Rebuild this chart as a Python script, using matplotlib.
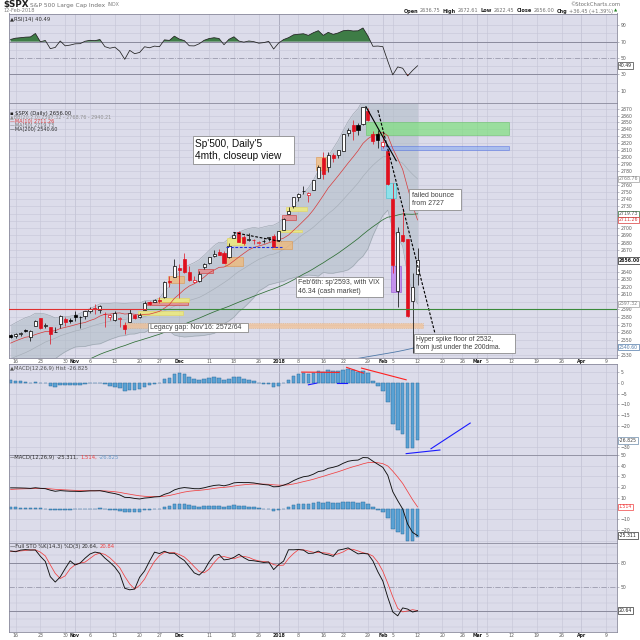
import numpy as np
import pandas as pd
import matplotlib
matplotlib.use('Agg')
import matplotlib.pyplot as plt
from matplotlib.patches import Rectangle
from matplotlib.transforms import blended_transform_factory as btf
from matplotlib.ticker import NullLocator, FixedLocator, FixedFormatter

plt.rcParams['font.family'] = ['DejaVu Sans']

# ---------------- data ----------------
open_ = [2556.20, 2555.57, 2557.17, 2562.87, 2553.39, 2567.56, 2578.08, 2568.66, 2566.52, 2560.08,
         2570.26, 2577.75, 2575.99, 2583.21, 2579.46, 2581.93, 2587.47, 2592.11, 2588.71, 2584.00,
         2580.18, 2576.53, 2577.75, 2569.45, 2572.95, 2582.94, 2579.49, 2589.17, 2600.31, 2600.42,
         2602.66, 2605.94, 2627.82, 2633.93, 2645.10, 2657.19, 2639.78, 2626.24, 2628.38, 2646.21,
         2652.19, 2661.73, 2667.59, 2665.87, 2660.63, 2685.92, 2694.95, 2688.18, 2683.02, 2684.22,
         2679.09, 2682.10, 2686.10, 2689.15, 2683.73, 2697.85, 2719.31, 2731.33, 2742.67, 2751.15,
         2745.55, 2752.97, 2770.18, 2798.96, 2784.99, 2802.40, 2802.60, 2809.16, 2835.05, 2845.42,
         2846.24, 2847.48, 2867.23, 2832.74, 2832.41, 2816.45, 2808.92, 2741.06, 2614.78, 2690.95,
         2685.01, 2601.78, 2636.75]
high = [2557.65, 2559.47, 2559.71, 2564.11, 2562.36, 2575.44, 2578.29, 2572.18, 2567.40, 2567.07,
        2582.98, 2580.03, 2578.29, 2588.40, 2581.11, 2588.42, 2593.38, 2597.02, 2595.47, 2586.50,
        2583.81, 2587.66, 2579.66, 2572.84, 2590.09, 2583.96, 2584.64, 2601.19, 2600.94, 2604.21,
        2606.41, 2627.69, 2634.89, 2657.74, 2650.62, 2665.19, 2648.72, 2634.41, 2640.99, 2651.65,
        2660.33, 2669.72, 2671.88, 2668.09, 2679.63, 2694.97, 2695.44, 2691.01, 2692.64, 2685.35,
        2682.74, 2685.64, 2687.66, 2692.12, 2695.89, 2714.37, 2729.29, 2743.45, 2748.51, 2759.14,
        2750.80, 2767.56, 2787.85, 2807.54, 2807.04, 2805.83, 2810.33, 2833.03, 2842.24, 2852.97,
        2848.56, 2872.87, 2870.62, 2837.75, 2839.26, 2835.96, 2808.92, 2763.39, 2701.04, 2727.67,
        2685.27, 2638.67, 2672.61]
low = [2552.09, 2552.64, 2554.69, 2559.67, 2547.92, 2567.56, 2564.33, 2565.58, 2544.00, 2559.80,
       2565.94, 2568.25, 2572.15, 2574.92, 2566.17, 2576.77, 2585.66, 2584.35, 2585.02, 2566.33,
       2575.57, 2574.48, 2566.56, 2557.45, 2572.95, 2577.62, 2578.24, 2589.17, 2595.23, 2600.42,
       2598.87, 2605.44, 2620.32, 2633.93, 2605.52, 2639.03, 2627.73, 2624.75, 2626.53, 2644.10,
       2651.47, 2659.78, 2662.85, 2652.01, 2659.14, 2685.92, 2680.74, 2676.11, 2682.40, 2678.13,
       2677.96, 2678.91, 2682.69, 2673.61, 2682.36, 2697.77, 2719.07, 2727.92, 2737.60, 2747.86,
       2736.06, 2752.78, 2769.64, 2768.64, 2778.38, 2792.56, 2798.08, 2808.12, 2830.59, 2824.81,
       2830.94, 2846.18, 2851.48, 2818.27, 2813.04, 2812.70, 2759.97, 2638.17, 2593.07, 2681.33,
       2580.56, 2532.69, 2622.45]
close = [2553.17, 2557.64, 2559.36, 2561.26, 2562.10, 2575.21, 2564.98, 2569.13, 2557.15, 2560.40,
         2581.07, 2572.83, 2575.26, 2579.36, 2579.85, 2587.84, 2591.13, 2590.64, 2594.38, 2584.62,
         2582.30, 2584.84, 2578.87, 2564.62, 2585.64, 2578.85, 2582.14, 2599.03, 2597.08, 2602.42,
         2601.42, 2627.04, 2626.07, 2647.58, 2642.22, 2639.44, 2629.57, 2629.27, 2636.98, 2651.50,
         2659.99, 2664.11, 2662.85, 2652.01, 2675.81, 2690.16, 2681.47, 2679.25, 2684.57, 2683.34,
         2680.50, 2682.62, 2687.54, 2673.61, 2695.81, 2713.06, 2723.99, 2743.15, 2747.71, 2751.29,
         2748.23, 2767.56, 2786.24, 2776.42, 2802.56, 2798.03, 2810.30, 2832.97, 2839.13, 2837.54,
         2839.25, 2872.87, 2853.53, 2822.43, 2823.81, 2821.98, 2762.13, 2648.94, 2695.14, 2681.66,
         2581.00, 2619.55, 2656.00]
# closes before the visible window (Aug 1 - Oct 12, 2017) for indicator warm-up
pre_close = [2476.35, 2477.57, 2472.16, 2476.83, 2480.91, 2474.92, 2474.02, 2438.21, 2441.32, 2465.84,
             2464.61, 2468.11, 2430.01, 2425.55, 2428.37, 2452.51, 2444.04, 2438.97, 2443.05, 2444.24,
             2446.30, 2457.59, 2471.65, 2476.55, 2457.85, 2465.54, 2465.10, 2461.43, 2488.11, 2496.48,
             2498.37, 2495.62, 2500.23, 2503.87, 2506.65, 2508.24, 2500.60, 2502.22, 2496.66, 2496.84,
             2507.04, 2510.06, 2519.36, 2529.12, 2534.58, 2537.74, 2552.07, 2549.33, 2544.73, 2550.64,
             2555.24, 2550.93]
pre_high = [2508.32, 2507.99, 2508.85, 2507.84, 2503.47, 2502.54, 2503.51, 2511.75, 2510.81, 2519.44,
            2529.23, 2535.13, 2540.53, 2552.51, 2549.99, 2551.82, 2555.23, 2555.24, 2555.33]
pre_low = [2499.92, 2502.54, 2496.67, 2497.16, 2496.54, 2488.03, 2495.12, 2495.91, 2502.93, 2507.99,
           2520.40, 2528.85, 2531.80, 2540.02, 2543.79, 2541.60, 2544.86, 2547.95, 2548.31]
ma200_start = 70
ma200_tail = [2526.0, 2527.1, 2528.2, 2529.3, 2530.4, 2531.5, 2532.6, 2533.7, 2534.9, 2536.2,
              2537.6, 2539.1, 2540.6]

holidays = ['2017-11-23', '2017-12-25', '2018-01-01', '2018-01-15', '2018-02-19', '2018-03-30']
tick_dates = ['2017-10-16', '2017-10-23', '2017-10-30', '2017-11-01', '2017-11-06', '2017-11-13',
              '2017-11-20', '2017-11-27', '2017-12-01', '2017-12-11', '2017-12-18', '2017-12-26',
              '2018-01-02', '2018-01-08', '2018-01-16', '2018-01-22', '2018-01-29', '2018-02-01',
              '2018-02-05', '2018-02-12', '2018-02-20', '2018-02-26', '2018-03-01', '2018-03-05',
              '2018-03-12', '2018-03-19', '2018-03-26', '2018-04-02', '2018-04-09']
tick_labels = ['16', '23', '30', 'Nov', '6', '13', '20', '27', 'Dec', '11', '18', '26', '2018', '8',
               '16', '22', '29', 'Feb', '5', '12', '20', '26', 'Mar', '5', '12', '19', '26', 'Apr', '9']
month_labels = {'Nov', 'Dec', '2018', 'Feb', 'Mar', 'Apr'}

# user annotation zones: (x from, x to [trading-day index], price low, price high, kind)
zones = [
    (25.7, 34.8, 2583.0, 2588.0, 'y'), (27.4, 35.8, 2596.0, 2599.5, 'r'),
    (29.8, 36.0, 2600.3, 2605.6, 'y'), (31.8, 34.9, 2625.0, 2634.0, 'o'),
    (37.8, 40.7, 2639.0, 2644.6, 'r'), (43.2, 46.9, 2648.6, 2660.8, 'o'),
    (43.7, 47.2, 2676.8, 2686.0, 'y'), (52.6, 56.8, 2671.0, 2682.3, 'o'),
    (54.6, 57.6, 2711.2, 2718.2, 'r'), (54.1, 58.7, 2694.2, 2697.4, 'y'),
    (55.5, 59.8, 2724.1, 2729.7, 'y'), (61.6, 63.8, 2781.4, 2800.0, 'o'),
    (22.8, 83.0, 2565.2, 2572.5, 'gap'), (71.6, 100.5, 2831.7, 2851.0, 'g'),
    (74.6, 100.5, 2809.6, 2815.8, 'b'), (75.6, 77.7, 2741.5, 2762.6, 'c'),
    (76.6, 78.6, 2613.7, 2648.2, 'p'),
]
# trend lines in price panel: (x0, p0, x1, p1, color, style)
price_lines = [
    (44.9, 2694.0, 54.6, 2681.3, 'black', '--'),
    (43.5, 2674.5, 54.6, 2674.5, '#2030e0', '--'),
    (71.6, 2872.9, 77.7, 2794.6, 'black', '-'),
    (74.0, 2868.0, 85.5, 2558.6, 'black', '--'),
    (-0.4, 2590.2, 27.4, 2590.2, '#e03030', '-'),
    (27.4, 2590.2, 122.2, 2590.2, '#3a8a3a', '-'),
]
hist_lines = [
    (58.65, 5.14, 66.2, 5.0, '#ff2020'), (67.7, 7.34, 71.1, 4.67, '#ff2020'),
    (70.7, 7.0, 79.7, 1.54, '#ff2020'),
    (60.0, -0.8, 61.7, 0.0, '#1a1aff'), (65.7, 0.0, 67.7, 0.0, '#1a1aff'),
    (79.7, -33.0, 86.5, -31.3, '#1a1aff'), (84.7, -30.7, 92.6, -18.7, '#1a1aff'),
]

# ---------------- indicators ----------------
n = len(close)
npre = len(pre_close)
x = np.arange(n)
c_all = pd.Series(pre_close + close)
h_all = pd.Series([np.nan] * (npre - len(pre_high)) + pre_high + high)
l_all = pd.Series([np.nan] * (npre - len(pre_low)) + pre_low + low)
ma10 = c_all.rolling(10).mean().values[npre:]
ma20 = c_all.rolling(20).mean()
sd20 = c_all.rolling(20).std(ddof=0)
bb_mid = ma20.values[npre:]
bb_up = (ma20 + 2 * sd20).values[npre:]
bb_lo = (ma20 - 2 * sd20).values[npre:]
ma50 = c_all.rolling(50).mean().values[npre:]
ema12 = c_all.ewm(span=12, adjust=False).mean()
ema26 = c_all.ewm(span=26, adjust=False).mean()
macd_s = ema12 - ema26
sig_s = macd_s.ewm(span=9, adjust=False).mean()
macd = macd_s.values[npre:]
sig = sig_s.values[npre:]
hist = macd - sig
d = c_all.diff()
ag = d.clip(lower=0).ewm(alpha=1 / 14, adjust=False).mean()
al = (-d.clip(upper=0)).ewm(alpha=1 / 14, adjust=False).mean()
rsi = (100 - 100 / (1 + ag / al)).values[npre:]
hh = h_all.rolling(14).max()
ll = l_all.rolling(14).min()
fastk = 100 * (c_all - ll) / (hh - ll)
fullk_s = fastk.rolling(3).mean()
fullk = fullk_s.values[npre:]
fulld = fullk_s.rolling(3).mean().values[npre:]

tdays = pd.bdate_range('2017-10-13', '2018-04-13', freq='C', holidays=holidays)
tpos = {dd.strftime('%Y-%m-%d'): i for i, dd in enumerate(tdays)}
tick_idx = [tpos[t] for t in tick_dates]

# ---------------- figure ----------------
W = 640.0
fig = plt.figure(figsize=(6.4, 6.4), dpi=100)
fig.patch.set_facecolor('white')
L, R = 8.5, 617.0
XL = (-0.42, 122.18)
BG = '#dcdcea'
GRID = '#c6c6d8'
TXT = '#5a5a5a'


def mkax(top, bot):
    ax = fig.add_axes([L / W, 1 - bot / W, (R - L) / W, (bot - top) / W])
    ax.set_facecolor(BG)
    ax.set_xlim(*XL)
    for s in ax.spines.values():
        s.set_color('#8a8a9c')
        s.set_linewidth(0.6)
    ax.yaxis.tick_right()
    ax.tick_params(axis='y', labelsize=3.3, colors='#8a8a9c', labelcolor=TXT, length=1.5,
                   width=0.4, pad=1)
    ax.set_xticks(tick_idx)
    ax.tick_params(axis='x', length=0, labelbottom=False)
    for ti, lab in zip(tick_idx, tick_labels):
        col = '#a0a0b4' if lab == '2018' else ('#bdbdd0' if lab in month_labels else GRID)
        ax.axvline(ti, color=col, lw=0.55 if lab == '2018' else 0.45, zorder=0.5)
    return ax


def date_labels(ax):
    ax.tick_params(axis='x', labelbottom=True, labelsize=3.3, pad=0.8, labelcolor=TXT)
    ax.set_xticklabels(tick_labels)
    for t in ax.get_xticklabels():
        if t.get_text() in month_labels:
            t.set_fontweight('bold')
            t.set_color('#202020')


ax_r = mkax(13.5, 103.3)
ax_p = mkax(103.3, 358.3)
ax_h = mkax(364.4, 454.5)
ax_m = mkax(454.5, 543.3)
ax_s = mkax(543.3, 632.3)
date_labels(ax_p)
date_labels(ax_s)


def ftext(px, py, s, **kw):
    kw.setdefault('va', 'center')
    return fig.text(px / W, 1 - py / W, s, **kw)


def vbox(ax, val, s, ec, tc='#202020', bold=False):
    ax.text(1.003, val, s, transform=btf(ax.transAxes, ax.transData), fontsize=3.3, color=tc,
            va='center', ha='left', fontweight='bold' if bold else 'normal', zorder=30,
            clip_on=False,
            bbox=dict(boxstyle='square,pad=0.18', fc='white', ec=ec, lw=0.5))


# ---------- RSI ----------
ax_r.set_ylim(-5.4, 104.4)
ax_r.set_yticks([90, 70, 50, 30, 10])
for v in [10, 20, 40, 60, 80, 90]:
    ax_r.axhline(v, color=GRID, lw=0.4, zorder=0.5)
ax_r.axhline(70, color='#8a8a9c', lw=0.7, zorder=1)
ax_r.axhline(30, color='#8a8a9c', lw=0.7, zorder=1)
ax_r.axhline(50, color='#9a9aac', lw=0.6, ls='-.', zorder=1)
ax_r.fill_between(x, 70, rsi, where=rsi > 70, interpolate=True, color='#3e7c46', lw=0, zorder=2)
ax_r.fill_between(x, 30, rsi, where=rsi < 30, interpolate=True, color='#d03030', lw=0, zorder=2)
ax_r.plot(x, rsi, color='#202020', lw=0.55, zorder=3)
vbox(ax_r, rsi[-1], f'{rsi[-1]:.2f}', '#404040')
ftext(10, 19, '\u25b2RSI(14) %.2f' % rsi[-1], fontsize=3.8, color='#303030')

# ---------- price ----------
ax_p.set_yscale('log')
ax_p.set_ylim(2526.1, 2877.9)
ax_p.yaxis.set_minor_locator(NullLocator())
skip = {2540, 2600, 2650, 2660, 2710, 2720, 2770}
levels = list(range(2530, 2880, 10))
pt = [v for v in levels if v not in skip]
ax_p.yaxis.set_major_locator(FixedLocator(pt))
ax_p.yaxis.set_major_formatter(FixedFormatter([str(v) for v in pt]))
for v in levels:
    ax_p.axhline(v, color=GRID, lw=0.4, zorder=0.5)

ax_p.fill_between(x, bb_lo, bb_up, color='#aebac4', alpha=0.55, lw=0, zorder=1)
ax_p.plot(x, bb_up, color='#98a2ac', lw=0.4, zorder=1.2)
ax_p.plot(x, bb_lo, color='#98a2ac', lw=0.4, zorder=1.2)
ax_p.plot(x, bb_mid, color='#a6aeb8', lw=0.45, zorder=1.2)

zone_style = {
    'y': dict(fc='#f4f070', ec='#e8d850', alpha=0.75),
    'o': dict(fc='#f4b870', ec='#e09040', alpha=0.7),
    'r': dict(fc='#e88080', ec='#d02020', alpha=0.7),
    'gap': dict(fc='#f4c090', ec='#e0a060', alpha=0.7, ls=':'),
    'g': dict(fc='#7ee07e', ec='#60c060', alpha=0.7),
    'b': dict(fc='#8aaaf0', ec='#4060e0', alpha=0.6),
    'c': dict(fc='#80e8f0', ec='#40c0d0', alpha=0.8),
    'p': dict(fc='#c080f0', ec='#9050d0', alpha=0.8),
}
for x0, x1, p0, p1, k in zones:
    st = dict(zone_style[k])
    ax_p.add_patch(Rectangle((x0, p0), x1 - x0, p1 - p0, lw=0.5, zorder=2, **st))

ax_p.plot(x, ma10, color='#d83a3a', lw=0.5, zorder=3)
ax_p.plot(x, ma50, color='#2e6e34', lw=0.55, zorder=3)
ax_p.plot(np.arange(ma200_start, ma200_start + len(ma200_tail)), ma200_tail, color='#4f79a8',
          lw=0.6, zorder=3)

RED = '#e0101e'
cw = 0.62
prevc = [pre_close[-1]] + close[:-1]
for i in range(n):
    o, h, l, c = open_[i], high[i], low[i], close[i]
    col = 'black' if c >= prevc[i] else RED
    fill = 'white' if c > o else col
    ax_p.vlines(i, l, h, color=col, lw=0.5, zorder=4)
    lo, hi = min(o, c), max(o, c)
    if hi - lo < 0.4:
        hi = lo + 0.4
    ax_p.add_patch(Rectangle((i - cw / 2, lo), cw, hi - lo, fc=fill, ec=col, lw=0.5, zorder=5))

for x0, p0, x1, p1, col, ls in price_lines:
    ax_p.plot([x0, x1], [p0, p1], color=col, ls=ls, lw=0.8, zorder=6,
              dashes=(2.5, 1.5) if ls == '--' else (None, None))

vbox(ax_p, bb_mid[-1], f'{bb_mid[-1]:.2f}', '#a0a0a0', tc='#808080')
vbox(ax_p, ma50[-1], f'{ma50[-1]:.2f}', '#2e6e34', tc='#505050')
vbox(ax_p, ma10[-1], f'{ma10[-1]:.2f}', '#d83a3a', tc='#d83a3a')
vbox(ax_p, close[-1], f'{close[-1]:.2f}', '#202020', bold=True)
vbox(ax_p, bb_lo[-1], f'{bb_lo[-1]:.2f}', '#a0a0a0', tc='#808080')
vbox(ax_p, ma200_tail[-1], f'{ma200_tail[-1]:.2f}', '#4f79a8', tc='#4f79a8')

ftext(10, 113, '\u25aa \\$SPX (Daily) %.2f' % close[-1], fontsize=3.8, color='#202020')
ftext(10, 117.3, '\u25b2BB(20,2.0) %.2f - %.2f - %.2f' % (bb_lo[-1], bb_mid[-1], bb_up[-1]),
      fontsize=3.5, color='#909090')
ftext(10, 121.3, '\u2014MA(10) %.2f' % ma10[-1], fontsize=3.5, color='#d83a3a')
ftext(10, 125.3, '\u2014MA(50) %.2f' % ma50[-1], fontsize=3.5, color='#707070')
ftext(10, 129.3, '\u2014MA(200) %.2f' % ma200_tail[-1], fontsize=3.5, color='#303030')

# ---------- MACD histogram ----------
ax_h.set_ylim(-33.4, 8.74)
ht = [5, 0, -5, -10, -15, -20, -30]
ax_h.set_yticks(ht)
for v in [5, 0, -5, -10, -15, -20, -25, -30]:
    ax_h.axhline(v, color=GRID, lw=0.4, zorder=0.5)
HB, HE = '#5aa2d4', '#2a6c9c'
ax_h.bar(x, hist, width=0.72, color=HB, edgecolor=HE, lw=0.35, zorder=2)
for x0, v0, x1, v1, col in hist_lines:
    ax_h.plot([x0, x1], [v0, v1], color=col, lw=0.8, zorder=4, clip_on=False)
vbox(ax_h, hist[-1], f'{hist[-1]:.3f}', '#6a8aaa', tc='#404040')
ftext(10, 368.3, '\u25b2MACD(12,26,9) Hist %.3f' % hist[-1], fontsize=3.8, color='#505050')

# ---------- MACD ----------
ax_m.set_ylim(-32.5, 50.5)
mt = [50, 40, 30, 20, 10, -10, -20]
ax_m.set_yticks(mt)
for v in mt + [0, -30]:
    ax_m.axhline(v, color=GRID, lw=0.4, zorder=0.5)
ax_m.bar(x, hist, width=0.72, color=HB, edgecolor=HE, lw=0.35, zorder=2)
ax_m.plot(x, sig, color='#f04040', lw=0.55, zorder=3)
ax_m.plot(x, macd, color='#101010', lw=0.65, zorder=4)
vbox(ax_m, sig[-1], f'{sig[-1]:.3f}', '#f04040', tc='#f04040')
vbox(ax_m, macd[-1], f'{macd[-1]:.3f}', '#303030')

# ---------- Full STO ----------
ax_s.set_ylim(-6.25, 105)
ax_s.set_yticks([80, 50])
for v in [0, 10, 30, 40, 60, 70, 90, 100]:
    ax_s.axhline(v, color=GRID, lw=0.35, zorder=0.5)
ax_s.axhline(80, color='#8a8a9c', lw=0.7, zorder=1)
ax_s.axhline(20, color='#8a8a9c', lw=0.7, zorder=1)
ax_s.axhline(50, color='#9a9aac', lw=0.6, ls='-.', zorder=1)
ax_s.plot(x, fulld, color='#f04040', lw=0.55, zorder=3)
ax_s.plot(x, fullk, color='#101010', lw=0.65, zorder=4)
vbox(ax_s, fullk[-1], f'{fullk[-1]:.2f}', '#303030')


# ---------- headers ----------
def seq(x_px, y_px, pieces, align='left'):
    r = fig.canvas.get_renderer()
    arts, widths = [], []
    for s, kw, gap in pieces:
        t = fig.text(0, 1 - y_px / W, s, va='center', ha='left', **kw)
        w = t.get_window_extent(renderer=r).width
        arts.append(t)
        widths.append(w + gap)
    total = sum(widths)
    xx = x_px - total if align == 'right' else x_px
    for t, w in zip(arts, widths):
        t.set_x(xx / W)
        xx += w
    return arts


B = dict(fontsize=3.6, fontweight='bold', color='#202020')
N = dict(fontsize=3.6, color='#707070')
seq(3, 5, [('\\$SPX', dict(fontsize=6.3, fontweight='bold', color='#202020'), 2),
           ('S&P 500 Large Cap Index', dict(fontsize=4.2, color='#707070'), 2),
           ('INDX', dict(fontsize=3.4, color='#808080'), 0)])
ftext(3, 11, '12-Feb-2018', fontsize=3.6, color='#808080')
ftext(620, 5, '\u00a9StockCharts.com', fontsize=3.8, color='#707070', ha='right')
chg = close[-1] - close[-2]
seq(617, 11, [('Open', B, 1.5), ('%.2f' % open_[-1], N, 2.5),
              ('High', B, 1.5), ('%.2f' % high[-1], N, 2.5),
              ('Low', B, 1.5), ('%.2f' % low[-1], N, 2.5),
              ('Close', B, 1.5), ('%.2f' % close[-1], N, 2.5),
              ('Chg', B, 1.5), ('+%.2f (+%.2f%%)' % (chg, 100 * chg / close[-2]), N, 1),
              ('\u25b2', dict(fontsize=3.0, color='#208020'), 0)], align='right')

seq(10, 457.7, [('\u2014MACD(12,26,9)', dict(fontsize=3.8, color='#303030'), 1.5),
                ('%.3f,' % macd[-1], dict(fontsize=3.8, color='#303030'), 1.5),
                ('%.3f,' % sig[-1], dict(fontsize=3.8, color='#f04040'), 1.5),
                ('%.3f' % hist[-1], dict(fontsize=3.8, color='#6a9ac8'), 0)])
seq(10, 546.5, [('\u2014Full STO %K(14,3) %D(3)', dict(fontsize=3.8, color='#303030'), 1.5),
                ('%.2f,' % fullk[-1], dict(fontsize=3.8, color='#303030'), 1.5),
                ('%.2f' % fulld[-1], dict(fontsize=3.8, color='#f04040'), 0)])


# ---------- annotation boxes ----------
def note(x0, y0, x1, y1, s, fs, ls=1.3, col='#404040'):
    fig.add_artist(Rectangle((x0 / W, 1 - y1 / W), (x1 - x0) / W, (y1 - y0) / W,
                             transform=fig.transFigure, fc='white', ec='#8c8c8c', lw=0.6,
                             zorder=20))
    fig.text((x0 + 2.2) / W, 1 - ((y0 + y1) / 2) / W, s, fontsize=fs, va='center', ha='left',
             family=['Liberation Sans', 'DejaVu Sans'], color=col, linespacing=ls, zorder=21)


note(192.7, 135.7, 294.0, 164.3, "Sp'500, Daily'5\n4mth, closeup view", 7.3, ls=1.3, col='#101010')
note(147.7, 322.7, 248.3, 332.3, "Legacy gap: Nov'16: 2572/64", 5.0)
note(295.7, 276.7, 383.3, 296.7, "Feb'6th: sp'2593, with VIX\n46.34 (cash market)", 5.0, ls=1.35)
note(409.3, 189.0, 460.7, 210.0, "failed bounce\nfrom 2727", 5.0, ls=1.35)
note(414.3, 334.0, 515.0, 353.3, "Hyper spike floor of 2532,\nfrom just under the 200dma.", 4.9,
     ls=1.3)

fig.savefig('out.png', dpi=100, facecolor='white')
